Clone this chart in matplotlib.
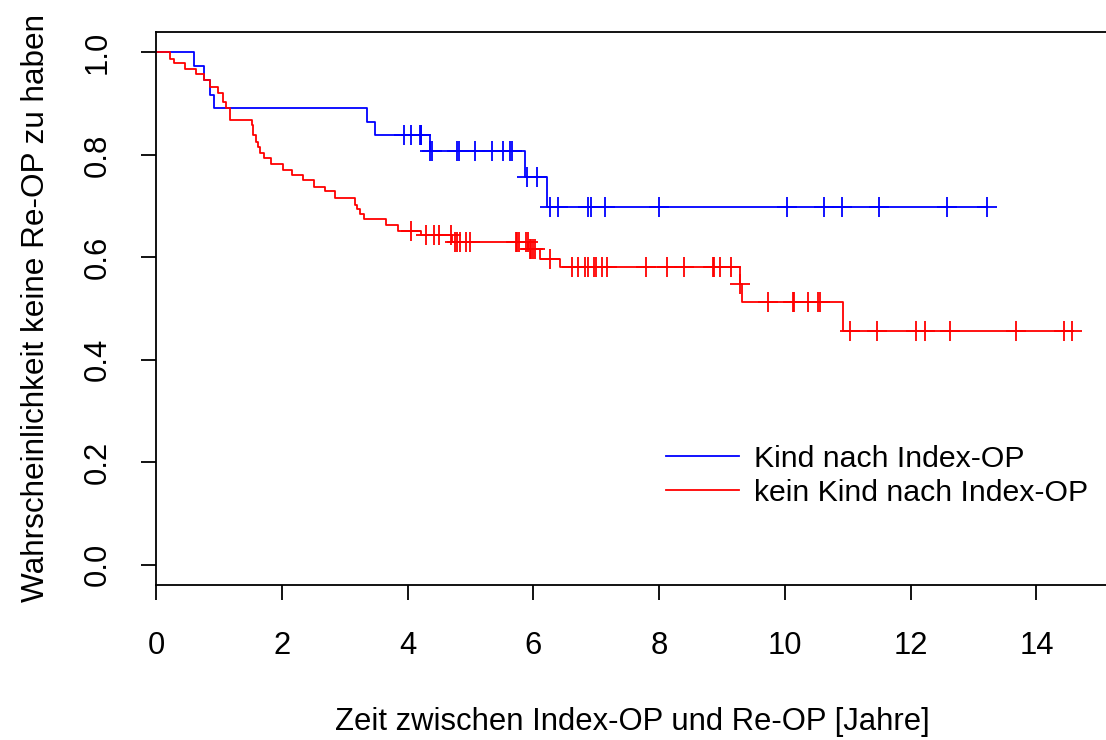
import numpy as np
import matplotlib
matplotlib.use("Agg")
import matplotlib.pyplot as plt

plt.rcParams['font.family'] = ['Liberation Sans', 'DejaVu Sans']

# Kaplan-Meier estimates: event times and survival level after each event
kind_event_times = [0.61, 0.77, 0.86, 0.93, 3.36, 3.49, 4.35, 5.87, 6.21]
kind_surv = [0.973, 0.946, 0.917, 0.892, 0.865, 0.838, 0.807, 0.756, 0.699]
kind_censor = [3.94, 4.06, 4.19, 4.21, 4.22, 4.36, 4.39, 4.78, 4.81, 5.07, 5.35,
               5.52, 5.63, 5.66, 5.90, 6.06, 6.26, 6.39, 6.87, 6.92, 7.14, 8.00,
               10.04, 10.62, 10.90, 11.50, 12.57, 13.22]

kein_event_times = [0.23, 0.28, 0.46, 0.63, 0.77, 0.86, 0.99, 1.07, 1.11, 1.17,
                    1.52, 1.55, 1.59, 1.62, 1.65, 1.72, 1.83, 2.02, 2.16, 2.33,
                    2.51, 2.69, 2.84, 3.16, 3.19, 3.24, 3.31, 3.66, 3.84, 4.22,
                    4.71, 5.92, 6.10, 6.43, 9.28, 9.32, 10.92]
kein_surv = [0.988, 0.979, 0.967, 0.958, 0.946, 0.933, 0.921, 0.903, 0.892, 0.868,
             0.858, 0.839, 0.825, 0.816, 0.803, 0.794, 0.782, 0.771, 0.760, 0.750,
             0.738, 0.729, 0.716, 0.703, 0.695, 0.685, 0.674, 0.664, 0.652, 0.643,
             0.630, 0.617, 0.596, 0.581, 0.548, 0.513, 0.457]
kein_censor = [4.05, 4.30, 4.42, 4.50, 4.69, 4.75, 4.79, 4.83, 4.93, 4.99,
               5.72, 5.74, 5.77, 5.89, 5.91, 5.94, 5.97, 6.00, 6.02, 6.27,
               6.62, 6.71, 6.82, 6.87, 6.97, 7.00, 7.09, 7.17, 7.79, 8.13,
               8.39, 8.85, 8.88, 8.97, 9.15, 9.29, 9.73, 10.13, 10.15, 10.37,
               10.52, 10.55, 11.04, 11.47, 12.08, 12.22, 12.63, 13.67, 14.44, 14.57]

group_labels = ["Kind nach Index-OP", "kein Kind nach Index-OP"]
group_colors = ["#0000FF", "#FF0000"]

x_ticks = [0, 2, 4, 6, 8, 10, 12, 14]
y_ticks = [0.0, 0.2, 0.4, 0.6, 0.8, 1.0]

FS = 22.3

fig = plt.figure(figsize=(11.06, 7.40), dpi=100)
ax = fig.add_axes([156 / 1106, 1 - 585 / 740, (1109 - 156) / 1106, (585 - 32) / 740])

t_end = max(max(kind_censor), max(kein_censor))

for times, surv, cens, col, lab in [
    (kind_event_times, kind_surv, kind_censor, group_colors[0], group_labels[0]),
    (kein_event_times, kein_surv, kein_censor, group_colors[1], group_labels[1]),
]:
    last = max(max(times), max(cens))
    xs = np.concatenate([[0.0], times, [last]])
    ys = np.concatenate([[1.0], surv, [surv[-1]]])
    ax.step(xs, ys, where='post', color=col, lw=1.3, label=lab)
    levels = np.concatenate([[1.0], surv])
    idx = np.searchsorted(times, cens, side='right')
    ax.plot(cens, levels[idx], ls='none', marker='+', ms=15, mew=1.3, color=col)

ax.set_xlim(0, t_end * 1.04)
ax.set_ylim(-0.04, 1.04)
ax.set_xticks(x_ticks)
ax.set_xticklabels([str(v) for v in x_ticks])
ax.set_yticks(y_ticks)
ax.set_yticklabels([f"{v:.1f}" for v in y_ticks], rotation=90, va='center')
ax.tick_params(direction='out', length=11, width=1.3, labelsize=FS)
ax.tick_params(axis='x', pad=22)
ax.tick_params(axis='y', pad=20)

for sp in ax.spines.values():
    sp.set_linewidth(1.3)

ax.set_xlabel("Zeit zwischen Index-OP und Re-OP [Jahre]", fontsize=FS, labelpad=33)
ax.set_ylabel("Wahrscheinlichkeit keine Re-OP zu haben", fontsize=FS + 0.4, labelpad=23)

ax.legend(loc='center left', bbox_to_anchor=(654 / 1106, 1 - 476 / 740),
          bbox_transform=fig.transFigure, borderaxespad=0, frameon=False,
          fontsize=21.8, handlelength=2.4, handletextpad=0.5, labelspacing=0.2)

fig.savefig("out.png", dpi=100)
